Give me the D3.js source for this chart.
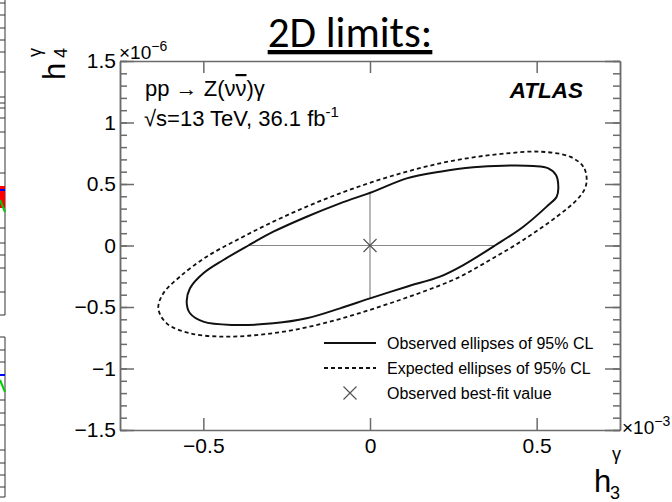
<!DOCTYPE html>
<html>
<head>
<meta charset="utf-8">
<script src="https://cdn.jsdelivr.net/npm/d3@7"></script>
<style>
  html, body { margin: 0; padding: 0; background: #fff; }
  svg { display: block; }
</style>
</head>
<body>
<svg id="chart" width="672" height="502"></svg>
<script>
// ---- data (h3 in units of 1e-3, h4 in units of 1e-6) ----
const xTicks = [-0.5, 0, 0.5];
const yTicks = [-1.5, -1, -0.5, 0, 0.5, 1, 1.5];

const observedH3 = [0.565, 0.558, 0.535, 0.49, 0.40, 0.31, 0.21, 0.11, 0.01, -0.09, -0.19, -0.29, -0.365, -0.44, -0.50, -0.54, -0.55, -0.54, -0.50, -0.41, -0.29, -0.19, -0.09, 0.0, 0.11, 0.21, 0.28, 0.375, 0.46, 0.53, 0.56];
const observedH4 = [0.465, 0.573, 0.627, 0.646, 0.649, 0.636, 0.600, 0.546, 0.438, 0.343, 0.234, 0.112, 0.0, -0.118, -0.226, -0.348, -0.457, -0.551, -0.619, -0.646, -0.633, -0.592, -0.511, -0.43, -0.335, -0.253, -0.159, 0.0, 0.153, 0.316, 0.397];

const expectedH3 = [0.65, 0.64, 0.60, 0.51, 0.41, 0.31, 0.21, 0.11, 0.01, -0.09, -0.19, -0.29, -0.39, -0.49, -0.57, -0.62, -0.635, -0.61, -0.54, -0.44, -0.34, -0.24, -0.14, -0.04, 0.06, 0.16, 0.26, 0.36, 0.46, 0.56, 0.62, 0.645];
const expectedH4 = [0.546, 0.641, 0.722, 0.763, 0.749, 0.717, 0.668, 0.600, 0.519, 0.424, 0.316, 0.194, 0.058, -0.091, -0.253, -0.389, -0.511, -0.633, -0.714, -0.741, -0.728, -0.692, -0.633, -0.557, -0.470, -0.375, -0.267, -0.118, 0.045, 0.234, 0.370, 0.465];

const bestFit = [0.0, 0.0];
const h3Interval = [-0.365, 0.375];
const h4Interval = [-0.43, 0.43];

const legendLabels = ["Observed ellipses of 95% CL", "Expected ellipses of 95% CL", "Observed best-fit value"];

// ---- setup ----
const svg = d3.select("#chart");
const W = 672, H = 502;
svg.append("rect").attr("width", W).attr("height", H).attr("fill", "#fff");

const x = d3.scaleLinear().domain([-0.75, 0.75]).range([120, 620]);
const y = d3.scaleLinear().domain([-1.5, 1.5]).range([430, 61]);
const FONT = "'Liberation Sans', Arial, Helvetica, sans-serif";
const axisColor = "#6b6b6b";

// ---- left-edge fragment of a neighbouring figure ----
const frag = svg.append("g");
const fragTicks = [3, 15, 28, 40, 52, 72, 97, 103, 108, 118, 132, 148, 173, 228, 243, 255, 268, 292];
frag.append("line").attr("x1", 5).attr("x2", 5).attr("y1", 0).attr("y2", 315).attr("stroke", "#333").attr("stroke-width", 1);
frag.append("line").attr("x1", 0).attr("x2", 5).attr("y1", 315).attr("y2", 315).attr("stroke", "#333");
frag.selectAll("line.ft").data(fragTicks).join("line").attr("class", "ft")
  .attr("x1", 0).attr("x2", 5).attr("y1", d => d).attr("y2", d => d).attr("stroke", "#333");
frag.append("rect").attr("x", 0).attr("y", 186).attr("width", 5).attr("height", 22).attr("fill", "#f00");
frag.append("line").attr("x1", 0).attr("x2", 5).attr("y1", 190).attr("y2", 190).attr("stroke", "#00f").attr("stroke-width", 2);
frag.append("line").attr("x1", 0).attr("x2", 5).attr("y1", 200).attr("y2", 212).attr("stroke", "#0c0").attr("stroke-width", 2);
frag.append("line").attr("x1", 5).attr("x2", 5).attr("y1", 337).attr("y2", 497).attr("stroke", "#333");
frag.append("line").attr("x1", 0).attr("x2", 5).attr("y1", 337).attr("y2", 337).attr("stroke", "#333");
frag.append("line").attr("x1", 0).attr("x2", 5).attr("y1", 497).attr("y2", 497).attr("stroke", "#333");
frag.selectAll("line.ft2").data([350, 362, 400, 413, 425, 450, 463, 475, 487]).join("line").attr("class", "ft2")
  .attr("x1", 0).attr("x2", 5).attr("y1", d => d).attr("y2", d => d).attr("stroke", "#333");
frag.append("line").attr("x1", 0).attr("x2", 5).attr("y1", 375).attr("y2", 375).attr("stroke", "#00f").attr("stroke-width", 2);
frag.append("line").attr("x1", 0).attr("x2", 5).attr("y1", 380).attr("y2", 392).attr("stroke", "#0c0").attr("stroke-width", 2);

// ---- title ----
svg.append("text")
  .attr("x", 350).attr("y", 47)
  .attr("text-anchor", "middle")
  .attr("font-family", "Carlito, Calibri, 'Open Sans', sans-serif")
  .attr("font-size", 43)
  .attr("fill", "#000")
  .attr("text-decoration", "underline")
  .text("2D limits:");

// ---- axes ----
function styleAxis(g) {
  g.select(".domain").attr("stroke", axisColor).attr("stroke-width", 1.5);
  g.selectAll(".tick line").attr("stroke", axisColor).attr("stroke-width", 1.5);
  g.selectAll("text").attr("font-family", FONT).attr("font-size", 21).attr("fill", "#000");
}
const fmt = d3.format("~g");
const minorY = d3.range(-15, 16).map(d => d / 10);

svg.append("g").attr("transform", `translate(0,${y(-1.5)})`)
  .call(d3.axisBottom(x).tickValues(xTicks).tickSize(-12).tickSizeOuter(0).tickPadding(8).tickFormat(fmt))
  .call(styleAxis);
svg.append("g").attr("transform", `translate(0,${y(1.5)})`)
  .call(d3.axisTop(x).tickValues(xTicks).tickSize(-12).tickSizeOuter(0).tickFormat(""))
  .call(styleAxis);
svg.append("g").attr("transform", `translate(${x(-0.75)},0)`)
  .call(d3.axisLeft(y).tickValues(minorY).tickSize(-7).tickSizeOuter(0).tickFormat(""))
  .call(styleAxis);
svg.append("g").attr("transform", `translate(${x(-0.75)},0)`)
  .call(d3.axisLeft(y).tickValues(yTicks).tickSize(-14).tickSizeOuter(0).tickPadding(4).tickFormat(fmt))
  .call(styleAxis);
svg.append("g").attr("transform", `translate(${x(0.75)},0)`)
  .call(d3.axisRight(y).tickValues(minorY).tickSize(-7).tickSizeOuter(0).tickFormat(""))
  .call(styleAxis);
svg.append("g").attr("transform", `translate(${x(0.75)},0)`)
  .call(d3.axisRight(y).tickValues(yTicks).tickSize(-15).tickSizeOuter(0).tickFormat(""))
  .call(styleAxis);

// exponent labels
const e6 = svg.append("text").attr("x", x(-0.75) - 1).attr("y", 59)
  .attr("font-family", FONT).attr("font-size", 19).attr("fill", "#000");
e6.append("tspan").text("×10");
e6.append("tspan").attr("dy", -8).attr("font-size", 14).text("−6");

const e3 = svg.append("text").attr("x", x(0.75) + 2).attr("y", 434)
  .attr("font-family", FONT).attr("font-size", 19).attr("fill", "#000");
e3.append("tspan").text("×10");
e3.append("tspan").attr("dy", -8).attr("font-size", 14).text("−3");

// axis titles
const lab = svg.append("g").attr("font-family", FONT).attr("fill", "#000");
lab.append("text").attr("x", 594).attr("y", 492).attr("font-size", 31).text("h");
lab.append("text").attr("x", 612).attr("y", 460).attr("font-size", 18).text("γ");
lab.append("text").attr("x", 610).attr("y", 499).attr("font-size", 18).text("3");

const ylab = svg.append("g").attr("font-family", FONT).attr("fill", "#000");
ylab.append("text").attr("transform", "translate(65,80) rotate(-90)").attr("font-size", 31).text("h");
ylab.append("text").attr("transform", "translate(41,57) rotate(-90)").attr("font-size", 18).text("γ");
ylab.append("text").attr("transform", "translate(67,58) rotate(-90)").attr("font-size", 18).text("4");

// ---- plot content ----
const plot = svg.append("g");
const line = d3.line().x(d => x(d[0])).y(d => y(d[1])).curve(d3.curveCatmullRomClosed.alpha(0.5));

plot.append("line")
  .attr("x1", x(h3Interval[0])).attr("x2", x(h3Interval[1]))
  .attr("y1", y(bestFit[1])).attr("y2", y(bestFit[1]))
  .attr("stroke", "#888").attr("stroke-width", 1.2);
plot.append("line")
  .attr("x1", x(bestFit[0])).attr("x2", x(bestFit[0]))
  .attr("y1", y(h4Interval[0])).attr("y2", y(h4Interval[1]))
  .attr("stroke", "#888").attr("stroke-width", 1.2);

const expPts = expectedH3.map((v, i) => [v, expectedH4[i]]);
const obsPts = observedH3.map((v, i) => [v, observedH4[i]]);

plot.append("path").attr("d", line(expPts))
  .attr("fill", "none").attr("stroke", "#111").attr("stroke-width", 1.8)
  .attr("stroke-dasharray", "4,3");
plot.append("path").attr("d", line(obsPts))
  .attr("fill", "none").attr("stroke", "#111").attr("stroke-width", 2);

function cross(g, cx, cy, r) {
  g.append("path")
    .attr("d", `M${cx - r},${cy - r}L${cx + r},${cy + r}M${cx - r},${cy + r}L${cx + r},${cy - r}`)
    .attr("stroke", "#555").attr("stroke-width", 1.2).attr("fill", "none");
}
cross(plot, x(bestFit[0]), y(bestFit[1]), 6.5);

// ---- annotation texts ----
const ann = svg.append("g").attr("font-family", FONT).attr("fill", "#000");
ann.append("text").attr("x", 145).attr("y", 96).attr("font-size", 22)
  .html("pp → Z(ν<tspan text-decoration='overline'>ν</tspan>)γ");
const t2 = ann.append("text").attr("x", 144).attr("y", 126).attr("font-size", 22);
t2.append("tspan").text("√s=13 TeV, 36.1 fb");
t2.append("tspan").attr("dy", -9).attr("font-size", 15).text("-1");
ann.append("text").attr("x", 583).attr("y", 98).attr("font-size", 22.5)
  .attr("text-anchor", "end").attr("font-weight", "bold").attr("font-style", "italic")
  .text("ATLAS");

// ---- legend ----
const leg = svg.append("g").attr("font-family", FONT).attr("font-size", 16).attr("fill", "#000");
const rowsY = [343, 368, 393];
leg.append("line").attr("x1", 324).attr("x2", 376).attr("y1", rowsY[0]).attr("y2", rowsY[0])
  .attr("stroke", "#111").attr("stroke-width", 2);
leg.append("line").attr("x1", 324).attr("x2", 376).attr("y1", rowsY[1]).attr("y2", rowsY[1])
  .attr("stroke", "#111").attr("stroke-width", 1.8).attr("stroke-dasharray", "4,3");
cross(leg, 350, rowsY[2], 6.5);
leg.selectAll("text.lg").data(legendLabels).join("text").attr("class", "lg")
  .attr("x", 387).attr("y", (d, i) => rowsY[i] + 6).text(d => d);
</script>
</body>
</html>
